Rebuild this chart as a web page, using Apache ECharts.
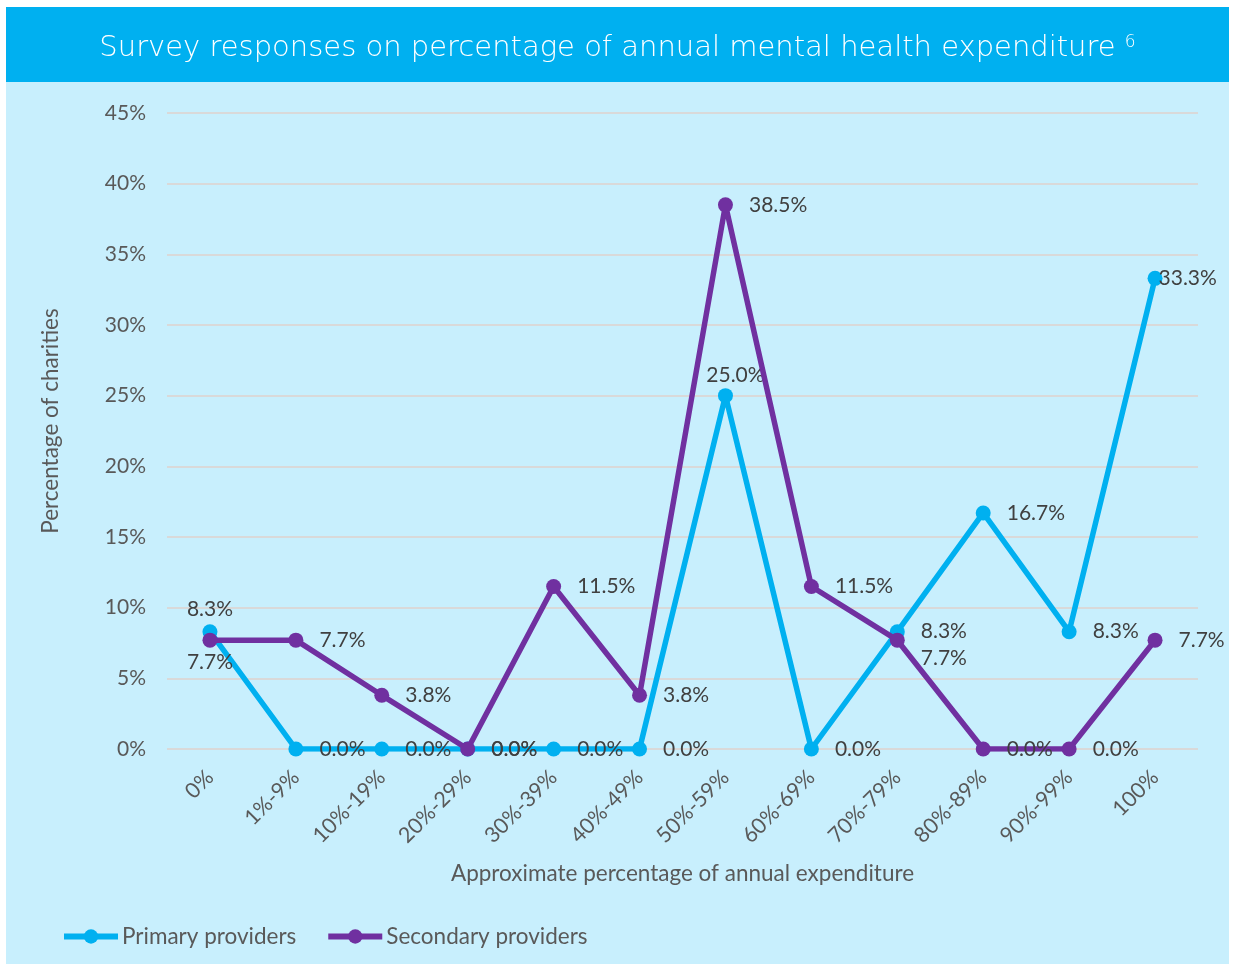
<!DOCTYPE html>
<html>
<head>
<meta charset="utf-8">
<script src="https://cdn.jsdelivr.net/npm/echarts@6/dist/echarts.min.js"></script>
<style>
  html, body { margin: 0; padding: 0; background: #fff; }
  #chart { position: absolute; left: 6px; top: 7px; width: 1223px; height: 957px; background: #C8EFFD; }
</style>
</head>
<body>
<div id="chart"></div>
<script>
const categories = ['0%', '1%-9%', '10%-19%', '20%-29%', '30%-39%', '40%-49%',
  '50%-59%', '60%-69%', '70%-79%', '80%-89%', '90%-99%', '100%'];
const primary = [8.3, 0.0, 0.0, 0.0, 0.0, 0.0, 25.0, 0.0, 8.3, 16.7, 8.3, 33.3];
const secondary = [7.7, 7.7, 3.8, 0.0, 11.5, 3.8, 38.5, 11.5, 7.7, 0.0, 0.0, 7.7];
const yTicks = [0, 5, 10, 15, 20, 25, 30, 35, 40, 45];

const chart = echarts.init(document.getElementById('chart'));

// label placement tweaks where the defaults would collide
const primaryLabelFix = {
  0: { position: 'top', distance: 4 },
  6: { position: 'top', offset: [10, 14] },
  11: { distance: -4 }
};
const secondaryLabelFix = {
  0: { position: 'bottom', distance: 4 },
  8: { offset: [0, 18] }
};

function buildData(values, fix) {
  return values.map((v, i) => fix[i] ? { value: v, label: fix[i] } : v);
}

const labelStyle = {
  show: true,
  position: 'right',
  distance: 16,
  fontSize: 21,
  fontFamily: 'Lato',
  color: '#404040',
  formatter: p => p.value.toFixed(1) + '%'
};

chart.setOption({
  textStyle: { fontFamily: 'Lato' },
  graphic: [{
    type: 'rect',
    shape: { x: 0, y: 0, width: 1223, height: 75 },
    style: { fill: '#00B0F0' },
    silent: true
  }],
  title: {
    text: '{t|Survey responses on percentage of annual mental health expenditure }{s|6}',
    left: 'center',
    top: 22,
    textStyle: {
      rich: {
        t: { fontSize: 29, color: '#fff', fontFamily: 'DejaVu Sans', fontWeight: 200 },
        s: { fontSize: 17, color: '#fff', fontFamily: 'DejaVu Sans', fontWeight: 200, verticalAlign: 'top', padding: [0, 0, 12, 0] }
      }
    }
  },
  legend: {
    left: 55,
    top: 918,
    padding: 0,
    itemWidth: 54,
    itemHeight: 18,
    itemGap: 29,
    lineStyle: { width: 6 },
    textStyle: { fontSize: 22.5, color: '#595959', fontFamily: 'Lato', padding: [0, 0, 0, -1] },
    data: ['Primary providers', 'Secondary providers']
  },
  grid: { left: 161, right: 31, top: 106, bottom: 215 },
  xAxis: {
    type: 'category',
    data: categories,
    boundaryGap: true,
    name: 'Approximate percentage of annual expenditure',
    nameLocation: 'middle',
    nameGap: 113,
    nameTextStyle: { fontSize: 22.5, color: '#595959' },
    axisLine: { show: false },
    axisTick: { show: false },
    axisLabel: { rotate: 45, fontSize: 21.5, color: '#595959', margin: 25, interval: 0 }
  },
  yAxis: {
    type: 'value',
    min: yTicks[0],
    max: yTicks[yTicks.length - 1],
    interval: 5,
    name: 'Percentage of charities',
    nameLocation: 'middle',
    nameGap: 105,
    nameTextStyle: { fontSize: 22.5, color: '#595959', padding: [0, 0, 0, 20] },
    axisLine: { show: false },
    axisTick: { show: false },
    axisLabel: { fontSize: 21, color: '#595959', margin: 21, formatter: '{value}%' },
    splitLine: { lineStyle: { color: '#D9D9D9', width: 2 } }
  },
  series: [
    {
      name: 'Primary providers',
      type: 'line',
      data: buildData(primary, primaryLabelFix),
      symbol: 'circle',
      symbolSize: 15,
      color: '#00B0F0',
      lineStyle: { width: 5.5, color: '#00B0F0' },
      itemStyle: { color: '#00B0F0' },
      label: labelStyle,
      z: 2
    },
    {
      name: 'Secondary providers',
      type: 'line',
      data: buildData(secondary, secondaryLabelFix),
      symbol: 'circle',
      symbolSize: 15,
      color: '#7030A0',
      lineStyle: { width: 5.5, color: '#7030A0' },
      itemStyle: { color: '#7030A0' },
      label: labelStyle,
      z: 3
    }
  ],
  animation: false
});
</script>
</body>
</html>
